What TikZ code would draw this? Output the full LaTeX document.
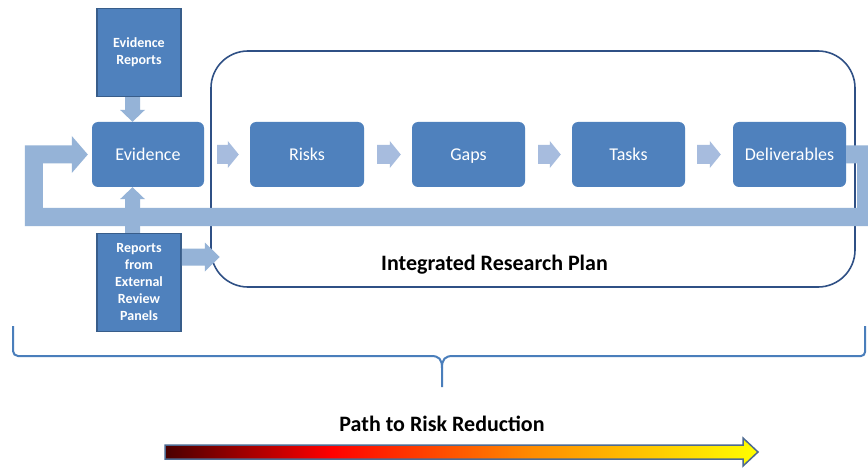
\documentclass[tikz,border=0pt]{standalone}
\usepackage{fontspec}
\setmainfont{Carlito}
\usetikzlibrary{calc}
\definecolor{boxblue}{HTML}{4F81BD}
\definecolor{boxline}{HTML}{385D8A}
\definecolor{bandblue}{HTML}{95B3D7}
\definecolor{smallblue}{HTML}{A7BCDE}
\definecolor{bracecol}{HTML}{4A7EBB}
\definecolor{irpline}{HTML}{2F5085}
\definecolor{gradborder}{HTML}{4D6A91}
\definecolor{gA}{HTML}{4A0000}
\definecolor{gB}{HTML}{FF0000}
\definecolor{gC}{HTML}{FF8C00}
\definecolor{gD}{HTML}{FFFF00}
\pgfdeclarehorizontalshading{riskgrad}{100bp}{color(0bp)=(gA); color(25bp)=(gA); color(39bp)=(gB); color(56bp)=(gC); color(75bp)=(gD); color(100bp)=(gD)}
% horizontal block arrow: style, from, to, shaft half, head half, head length
\newcommand\hblock[6]{%
  \fill[#1] let \p1=(#2), \p2=(#3) in
   (\x1,\y1+#4) -- (\x2-#6,\y1+#4) -- (\x2-#6,\y1+#5) -- (\x2,\y1) --
   (\x2-#6,\y1-#5) -- (\x2-#6,\y1-#4) -- (\x1,\y1-#4) -- cycle;}
% downward block arrow
\newcommand\vdown[6]{%
  \fill[#1] let \p1=(#2), \p2=(#3) in
   (\x1-#4,\y1) -- (\x1-#4,\y2+#6) -- (\x1-#5,\y2+#6) -- (\x1,\y2) --
   (\x1+#5,\y2+#6) -- (\x1+#4,\y2+#6) -- (\x1+#4,\y1) -- cycle;}
% upward block arrow
\newcommand\vup[6]{%
  \fill[#1] let \p1=(#2), \p2=(#3) in
   (\x1-#4,\y1) -- (\x1-#4,\y2-#6) -- (\x1-#5,\y2-#6) -- (\x1,\y2) --
   (\x1+#5,\y2-#6) -- (\x1+#4,\y2-#6) -- (\x1+#4,\y1) -- cycle;}
\begin{document}
\begin{tikzpicture}[x=1pt,y=-1pt,
  procbox/.style={fill=boxblue, rounded corners=6pt, minimum width=113pt,
    minimum height=65pt, inner sep=0pt, text=white, text height=14pt, text depth=2.4pt,
    font=\fontsize{18}{21}\selectfont},
  srcbox/.style={fill=boxblue, draw=boxline, line width=1.5pt,
    minimum width=84pt, inner sep=0pt, text=white, align=center,
    font=\bfseries\fontsize{14}{17}\selectfont},
  bandarr/.style={fill=bandblue},
  smallarr/.style={fill=smallblue},
  brace/.style={draw=bracecol, line width=2pt},
  title/.style={font=\bfseries\fontsize{22}{26}\selectfont, text=black}
]
\clip (0,0) rectangle (868,468);
\fill[white] (0,0) rectangle (868,468);

% integrated research plan frame
\node[draw=irpline, line width=1.6pt, rounded corners=37pt,
      minimum width=644pt, minimum height=236pt, inner sep=0pt] (irp) at (533,169) {};
\node[title] (irptext) at (494.5,265) {Integrated Research Plan};

% process boxes
\node[procbox, minimum width=112pt] (ev) at (148,154.5) {Evidence};
\node[procbox, minimum width=114pt] (ri) at (307,154.5) {Risks};
\node[procbox] (ga) at (468.5,154.5) {Gaps};
\node[procbox] (ta) at (628.5,154.5) {Tasks};
\node[procbox] (dl) at (789.5,154.5) {Deliverables};

% source boxes
\node[srcbox, minimum height=88pt] (er) at (139,52.5) {Evidence\\Reports};
\node[srcbox, minimum height=98pt] (rp) at (139,282.5) {Reports\\from\\External\\Review\\Panels};

% feedback loop band from Deliverables back to Evidence
\fill[bandarr] let \p1=(dl.east), \p2=(ev.west) in
  (\x1,\y1+9pt) -- (890pt,\y1+9pt) -- (890pt,\y1-71.5pt) --
  (\x2-67pt,\y1-71.5pt) -- (\x2-67pt,\y2+9pt) -- (\x2-20pt,\y2+9pt) --
  (\x2-20pt,\y2+18.5pt) -- (\x2-4pt,\y2) -- (\x2-20pt,\y2-18.5pt) --
  (\x2-20pt,\y2-9pt) -- (\x2-49pt,\y2-9pt) -- (\x2-49pt,\y1-53.5pt) --
  (\x1+11pt,\y1-53.5pt) -- (\x1+11pt,\y1-9pt) -- (\x1,\y1-9pt) -- cycle;

% vertical inputs into Evidence
\vdown{bandarr}{$(er.south)+(-6.5,0)$}{ev.north}{7.5pt}{12.5pt}{12pt}
\vup{bandarr}{$(rp.north)+(-6.5,0)$}{ev.south}{7.5pt}{12.5pt}{12pt}

% reports to plan
\hblock{bandarr}{$(rp.east)+(0,-25.5)$}{$(rp.east)+(38,-25.5)$}{8.5pt}{14.5pt}{15pt}

% chain arrows
\hblock{smallarr}{$(ev.east)+(13,0)$}{$(ri.west)+(-11,0)$}{9.5pt}{13.5pt}{11pt}
\hblock{smallarr}{$(ri.east)+(13,0)$}{$(ga.west)+(-11,0)$}{9.5pt}{13.5pt}{11pt}
\hblock{smallarr}{$(ga.east)+(13,0)$}{$(ta.west)+(-11,0)$}{9.5pt}{13.5pt}{11pt}
\hblock{smallarr}{$(ta.east)+(12,0)$}{$(dl.west)+(-12,0)$}{9.5pt}{13.5pt}{11pt}

% brace
\draw[brace] (13,326) [rounded corners=5pt] -- (13,356) [sharp corners] -- (431,356)
  .. controls (439,356) and (442,359) .. (442,368) -- (442,387);
\draw[brace] (865,326) [rounded corners=4pt] -- (865,356) [sharp corners] -- (453,356)
  .. controls (445,356) and (442,359) .. (442,368);

% path to risk reduction
\node[title] (ptr) at (442,424) {Path to Risk Reduction};
\shadedraw[shading=riskgrad, draw=gradborder, line width=1.5pt]
  (165,445) -- (743,445) -- (743,438) -- (758,452) -- (743,466) -- (743,459) -- (165,459) -- cycle;
\end{tikzpicture}
\end{document}
